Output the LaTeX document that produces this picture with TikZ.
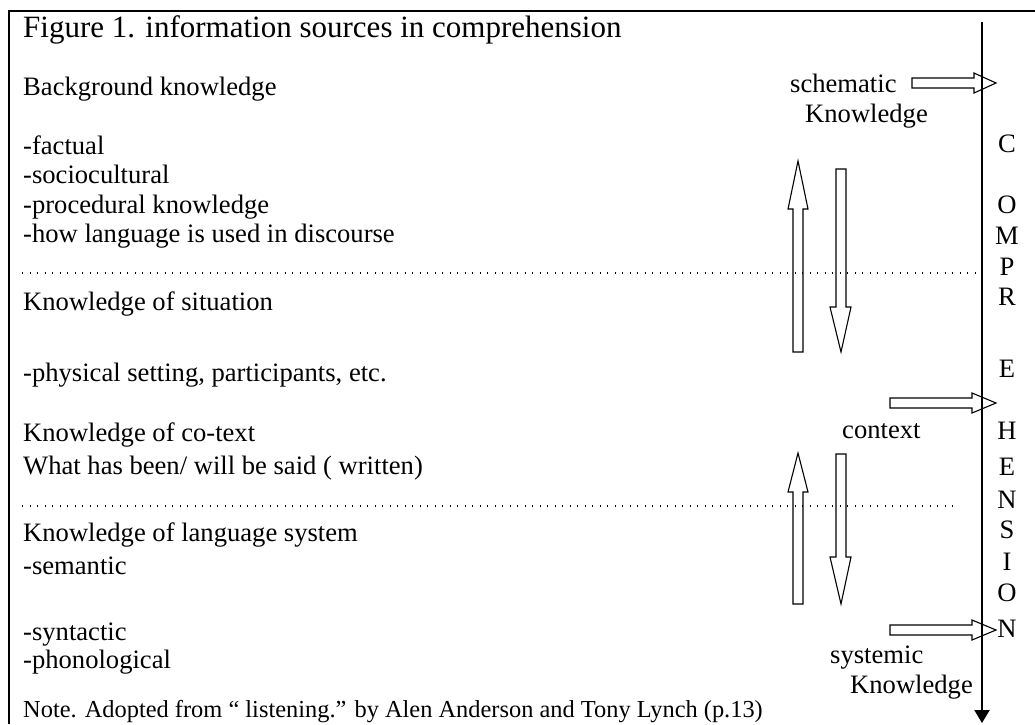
\documentclass[tikz,border=0pt]{standalone}
\usepackage{fontspec}
\setmainfont{Liberation Serif}
\usetikzlibrary{arrows.meta}
\begin{document}
\begin{tikzpicture}[x=1pt,y=-1pt,
  txt/.style={anchor=base west, inner sep=0pt, font=\fontsize{26.6}{32}\selectfont},
  notetxt/.style={anchor=base west, inner sep=0pt, font=\fontsize{24.4}{29}\selectfont},
  ttl/.style={anchor=base west, inner sep=0pt, font=\fontsize{31}{37}\selectfont},
  letter/.style={anchor=base, inner sep=0pt, font=\fontsize{26.6}{32}\selectfont},
  blockarrow/.style={draw=black, line width=1.1pt, line join=miter},
  frameline/.style={line width=2pt},
  dotline/.style={line width=1.3pt, dash pattern=on 1.3pt off 6.2pt},
  axisline/.style={line width=2.2pt, -{Triangle[length=13pt,width=15pt]}},
]
\useasboundingbox (0,0) rectangle (1035,724);
% frame
\draw[frameline] (1035,11) -- (9,11) -- (9,724);
% title
\node[ttl] (title) at (23,37) {Figure 1. information sources in comprehension};
% left texts
\node[txt] (bk) at (23,95) {Background knowledge};
\node[txt] (fact) at (23,154) {-factual};
\node[txt] (soc) at (23,183) {-sociocultural};
\node[txt] (proc) at (23,213) {-procedural knowledge};
\node[txt] (how) at (23,242) {-how language is used in discourse};
\node[txt] (kos) at (23,310) {Knowledge of situation};
\node[txt] (phys) at (23,381) {-physical setting, participants, etc.};
\node[txt] (kct) at (23,441) {Knowledge of co-text};
\node[txt] (what) at (23,474) {What has been/ will be said ( written)};
\node[txt] (kls) at (23,541) {Knowledge of language system};
\node[txt] (sem) at (23,574) {-semantic};
\node[txt] (syn) at (23,640) {-syntactic};
\node[txt] (pho) at (23,668) {-phonological};
\node[notetxt] (note) at (23,717) {Note. Adopted from “ listening.” by Alen Anderson and Tony Lynch (p.13)};
% right labels
\node[txt] (sch) at (790,92) {schematic};
\node[txt] (schk) at (805,122) {Knowledge};
\node[txt] (ctx) at (842,438) {context};
\node[txt] (sys) at (830,663) {systemic};
\node[txt] (sysk) at (850,693) {Knowledge};
% dotted lines
\coordinate (d1a) at (22,273);
\coordinate (d1b) at (989,273);
\coordinate (d2a) at (22,506);
\coordinate (d2b) at (954,506);
\draw[dotline] (d1a) -- (d1b);
\draw[dotline] (d2a) -- (d2b);
% comprehension axis
\coordinate (atop) at (982,22);
\coordinate (abot) at (982,723);
\draw[axisline] (atop) -- (abot);
% letters
\node[letter] (l1) at (1007,152) {C};
\node[letter] (l2) at (1007,213) {O};
\node[letter] (l3) at (1007,244) {M};
\node[letter] (l4) at (1007,275) {P};
\node[letter] (l5) at (1007,305) {R};
\node[letter] (l6) at (1007,377) {E};
\node[letter] (l7) at (1007,439) {H};
\node[letter] (l8) at (1007,475) {E};
\node[letter] (l9) at (1007,508) {N};
\node[letter] (l10) at (1007,538) {S};
\node[letter] (l11) at (1007,570) {I};
\node[letter] (l12) at (1007,601) {O};
\node[letter] (l13) at (1007,637) {N};
% horizontal block arrows
\draw[blockarrow] (912,78) -- (974,78) -- (974,73) -- (996,83) -- (974,93) -- (974,88) -- (912,88) -- cycle;
\draw[blockarrow] (890,398) -- (972,398) -- (972,393) -- (996,403) -- (972,413) -- (972,408) -- (890,408) -- cycle;
\draw[blockarrow] (890,625) -- (972,625) -- (972,620) -- (996,630) -- (972,640) -- (972,635) -- (890,635) -- cycle;
% vertical block arrows
\draw[blockarrow] (793,352) -- (793,209) -- (788,209) -- (798,161) -- (808,209) -- (803,209) -- (803,352) -- cycle;
\draw[blockarrow] (836,169) -- (836,307) -- (830,307) -- (841,352) -- (851,307) -- (846,307) -- (846,169) -- cycle;
\draw[blockarrow] (793,604) -- (793,492) -- (788,492) -- (798,453) -- (808,492) -- (803,492) -- (803,604) -- cycle;
\draw[blockarrow] (836,454) -- (836,557) -- (830,557) -- (841,604) -- (851,557) -- (846,557) -- (846,454) -- cycle;
\end{tikzpicture}
\end{document}
